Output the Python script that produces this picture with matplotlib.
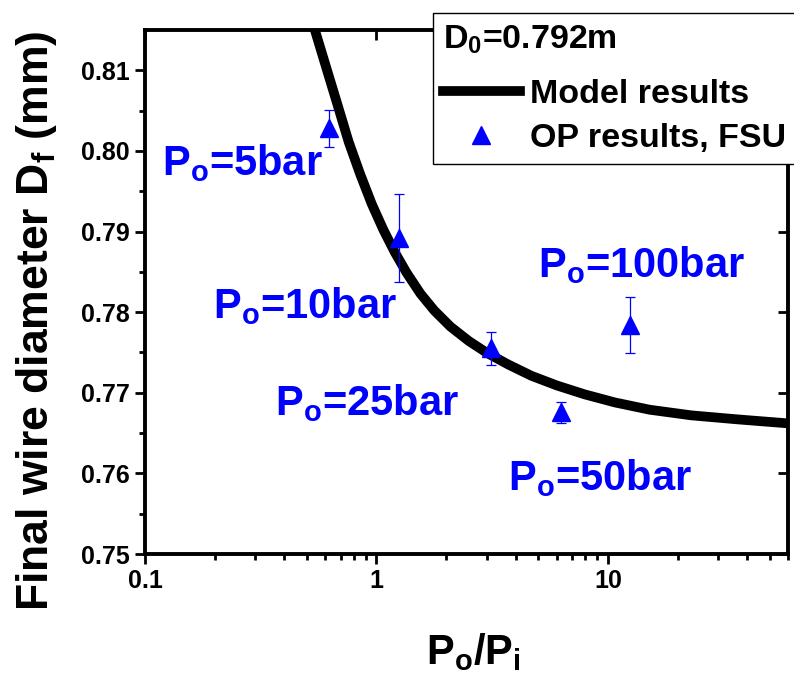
import matplotlib
matplotlib.use("Agg")
import matplotlib.pyplot as plt
import numpy as np

plt.rcParams['font.family'] = ['Liberation Sans', 'DejaVu Sans']
plt.rcParams['font.weight'] = 'bold'
plt.rcParams['mathtext.fontset'] = 'custom'
plt.rcParams['mathtext.rm'] = 'Liberation Sans:bold'
plt.rcParams['mathtext.it'] = 'Liberation Sans:bold'
plt.rcParams['mathtext.bf'] = 'Liberation Sans:bold'

# model curve
model_x = [0.501, 0.542, 0.603, 0.676, 0.759, 0.851, 0.955, 1.072, 1.202, 1.349,
           1.549, 1.778, 2.089, 2.512, 3.020, 3.715, 4.677, 6.026, 7.943, 10.72,
           15.14, 22.91, 36.31, 60.26, 65.0]
model_y = [0.8183, 0.8150, 0.8106, 0.8059, 0.8011, 0.7971, 0.7934, 0.7902, 0.7874, 0.7849,
           0.7823, 0.7802, 0.7782, 0.7764, 0.7749, 0.7735, 0.7721, 0.7709, 0.7698, 0.7688,
           0.7679, 0.7672, 0.7667, 0.7662, 0.7661]

# OP results, FSU
op_ratio = [0.625, 1.25, 3.125, 6.25, 12.5]
op_diam = [0.8028, 0.7892, 0.7755, 0.7676, 0.7784]
op_err = [0.0023, 0.0055, 0.0021, 0.0013, 0.0035]

# annotations
op_labels = ['P$_\\mathrm{o}$=5bar', 'P$_\\mathrm{o}$=10bar', 'P$_\\mathrm{o}$=25bar',
             'P$_\\mathrm{o}$=50bar', 'P$_\\mathrm{o}$=100bar']
label_x = [0.1184, 0.1967, 0.3645, 3.70, 4.99]
label_y = [0.7970, 0.7793, 0.7672, 0.7579, 0.7843]

xticks = [0.1, 1, 10]
xtick_labels = ['0.1', '1', '10']
yticks = [0.75, 0.76, 0.77, 0.78, 0.79, 0.80, 0.81]
ytick_labels = ['0.75', '0.76', '0.77', '0.78', '0.79', '0.80', '0.81']

fig = plt.figure(figsize=(7.94, 6.78), dpi=100)
ax = fig.add_axes([145/794, 1-554/678, 643/794, 524/678])

ax.plot(model_x, model_y, color='black', lw=7, label='Model results', zorder=2,
        solid_joinstyle='round')
ax.errorbar(op_ratio, op_diam, yerr=op_err, fmt='none', ecolor='blue',
            elinewidth=0.9, capsize=3.3, capthick=0.9, zorder=3)
ax.plot(op_ratio, op_diam, ls='none', marker='^', ms=13, color='blue',
        label='OP results, FSU', zorder=4)

for txt, tx, ty in zip(op_labels, label_x, label_y):
    ax.text(tx, ty, txt, color='blue', fontsize=30, fontweight='bold',
            ha='left', va='baseline')

ax.set_xscale('log')
ax.set_xlim(0.1, 60)
ax.set_ylim(0.75, 0.815)
ax.set_xticks(xticks)
ax.set_xticklabels(xtick_labels)
ax.set_yticks(yticks)
ax.set_yticklabels(ytick_labels)
ax.set_yticks(np.arange(0.755, 0.815, 0.01), minor=True)

ax.tick_params(which='major', direction='out', length=7, width=2, labelsize=18, pad=4)
ax.tick_params(which='minor', direction='out', length=4, width=2)
ax.tick_params(axis='x', which='minor', labelbottom=False)
for s in ax.spines.values():
    s.set_linewidth(2.8)

# inward major ticks on top and right
sec_x = ax.secondary_xaxis('top')
sec_x.set_xticks(xticks)
sec_x.set_xticklabels([])
sec_x.xaxis.set_minor_locator(matplotlib.ticker.NullLocator())
sec_x.tick_params(direction='in', length=7, width=2)
sec_x.spines['top'].set_visible(False)
sec_y = ax.secondary_yaxis('right')
sec_y.set_yticks(yticks)
sec_y.set_yticklabels([])
sec_y.tick_params(direction='in', length=7, width=2)
sec_y.spines['right'].set_visible(False)

ax.set_ylabel('Final wire diameter D$_\\mathrm{f}$ (mm)', fontsize=32, fontweight='bold')
ax.yaxis.label.set_va('center')
ax.yaxis.set_label_coords((37 - 145) / 643, (554 - 321) / 524)
ax.set_xlabel('P$_\\mathrm{o}$/P$_\\mathrm{i}$', fontsize=30, fontweight='bold')
ax.xaxis.set_label_coords(0.51, -0.147)

leg = ax.legend(loc='upper left', bbox_to_anchor=(433/794, 1-13/678),
                bbox_transform=fig.transFigure, title='D$_\\mathrm{0}$=0.792m',
                title_fontproperties={'weight': 'bold', 'size': 24.5},
                prop={'weight': 'bold', 'size': 24.5}, alignment='left',
                fancybox=False, framealpha=1, edgecolor='black',
                handlelength=2.25, handletextpad=0.3, labelspacing=0.38,
                borderpad=0.3, borderaxespad=0, markerscale=1.0)
leg._legend_box.sep = 17
leg.get_frame().set_linewidth(1.0)
leg.set_zorder(10)

fig.savefig('out.png', dpi=100)
